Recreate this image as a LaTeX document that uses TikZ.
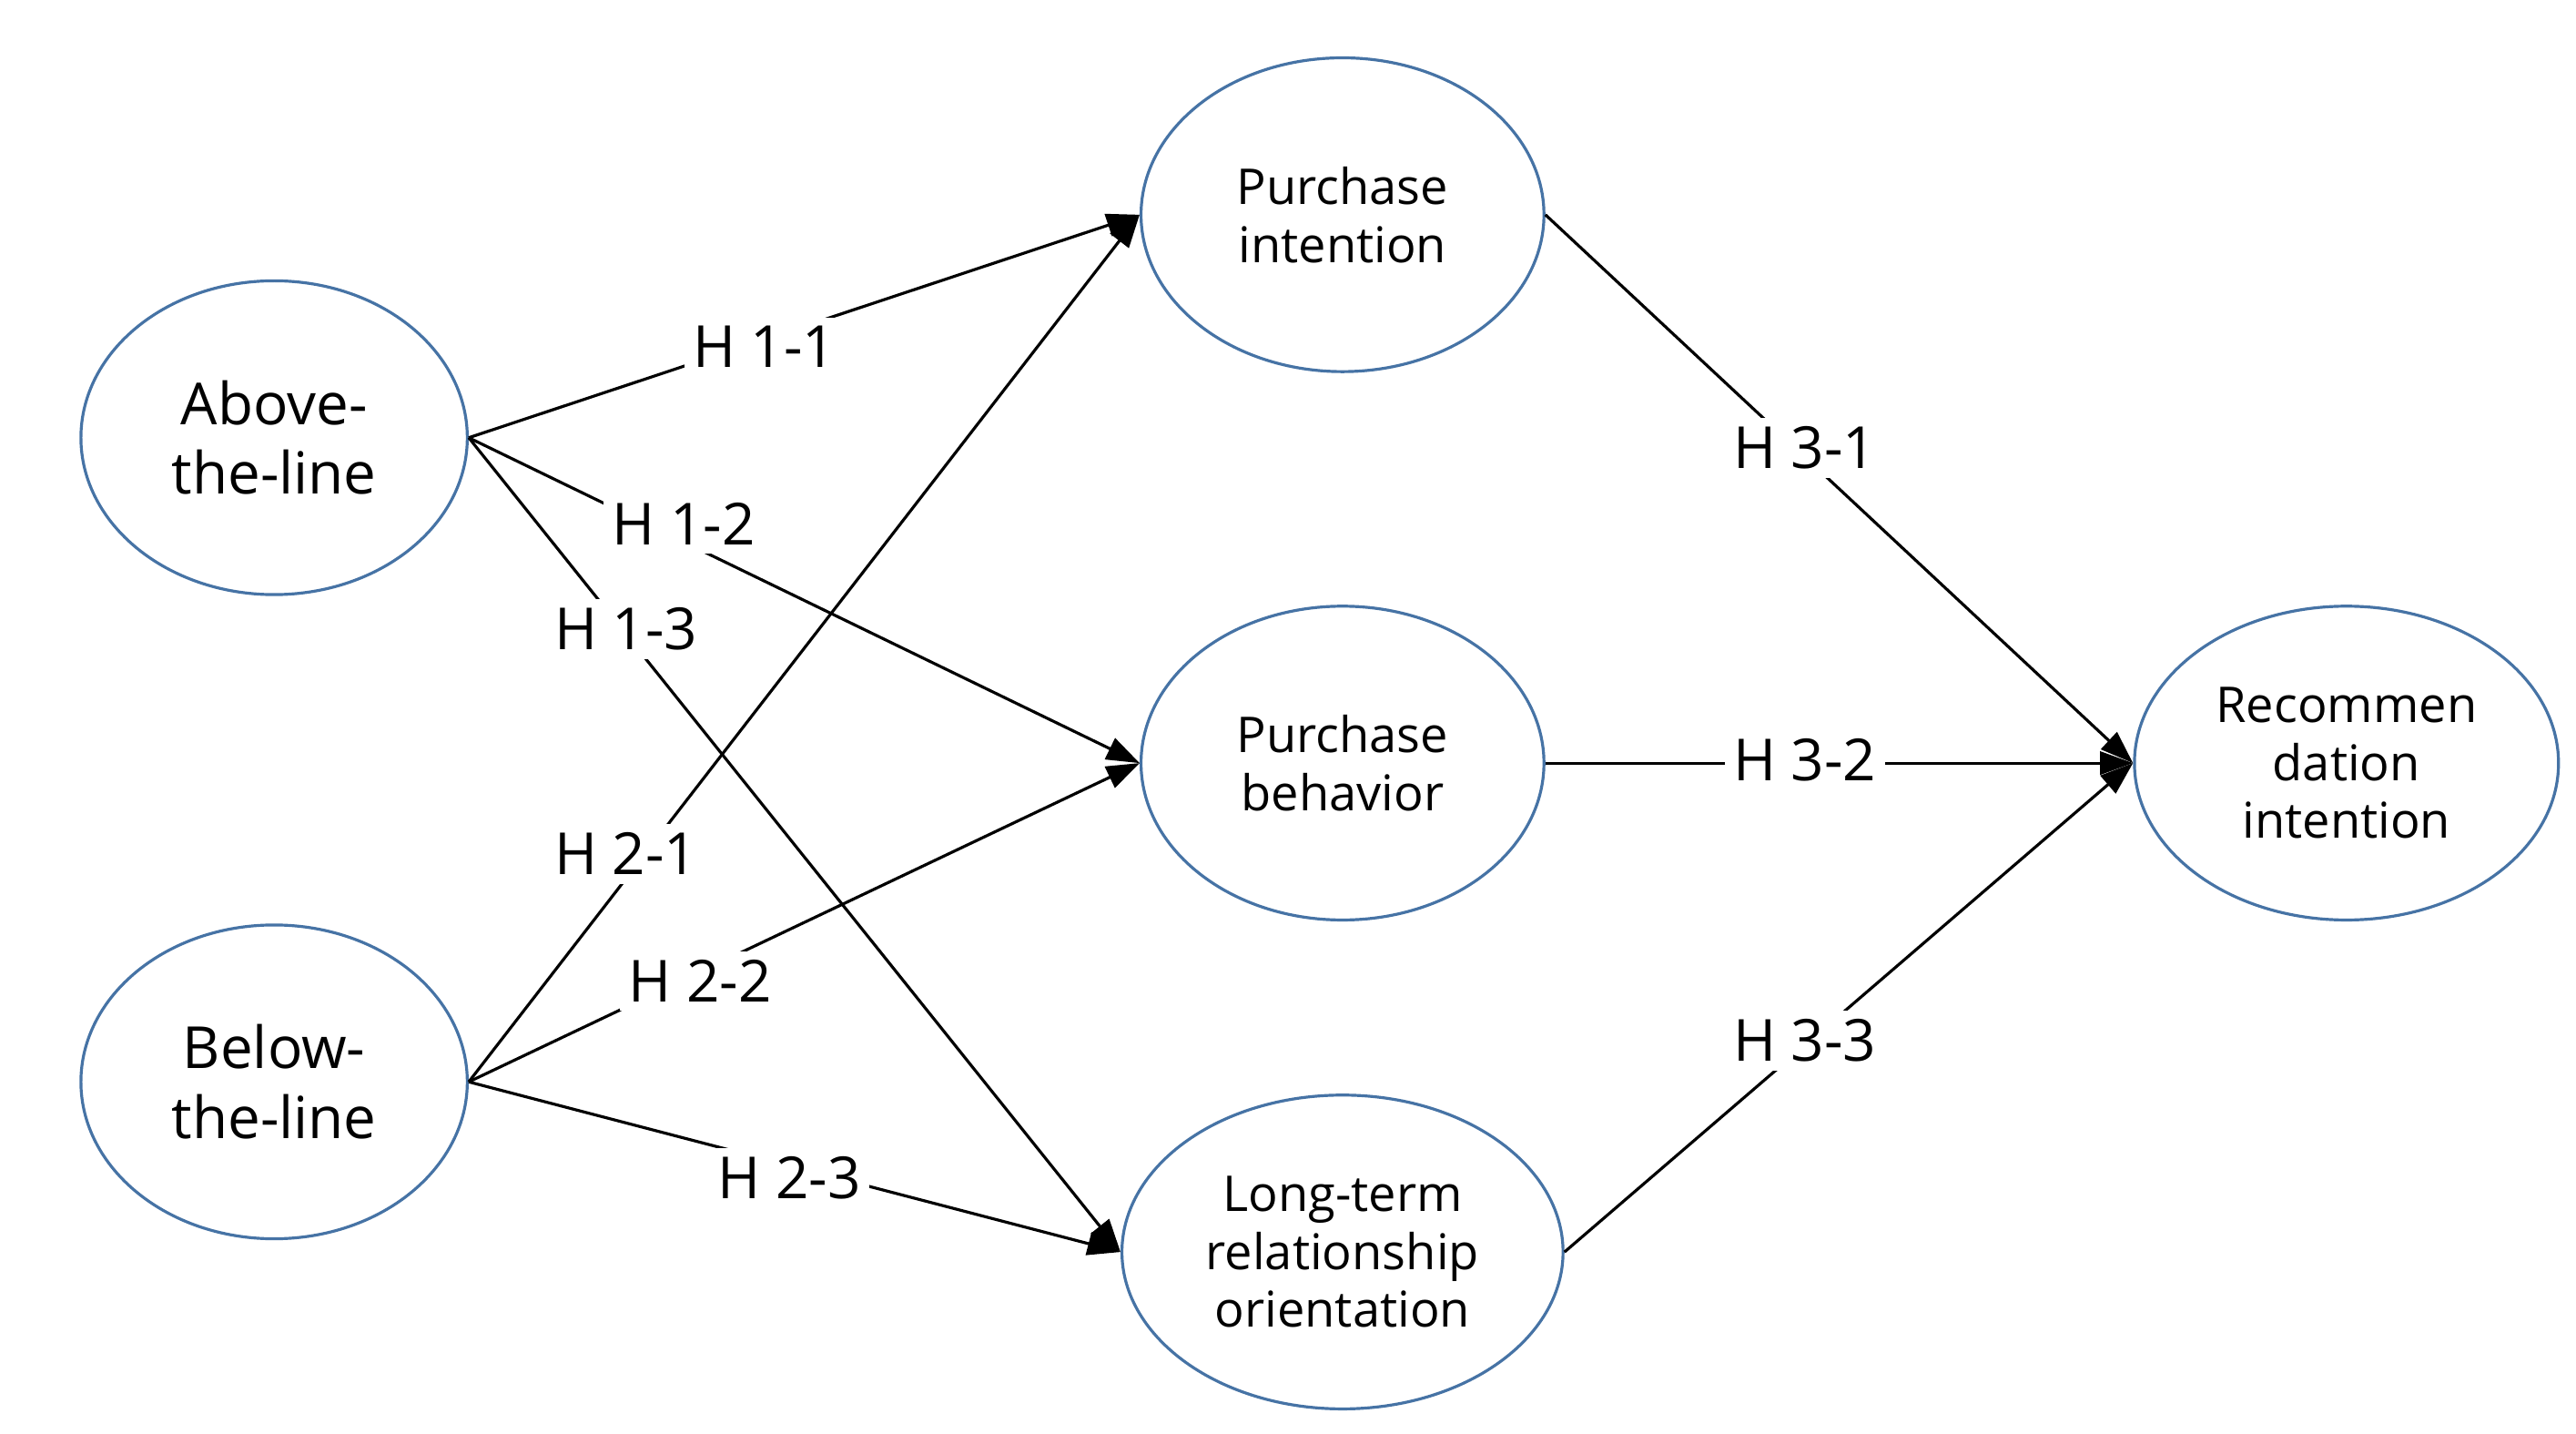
\documentclass[tikz,border=0pt]{standalone}
\usepackage{fontspec}
\setmainfont{Open Sans}
\usetikzlibrary{shapes.geometric,arrows.meta}
\definecolor{eblue}{RGB}{70,115,165}
\begin{document}
\begin{tikzpicture}[x=0.1mm,y=-0.1mm,
  ell/.style={ellipse,draw=eblue,line width=0.5pt,minimum width=234\pgflinewidth,align=center,font=\fontsize{8.5}{10}\selectfont},
  big/.style={ell,minimum width=23.4mm,minimum height=19mm,font=\fontsize{10}{12}\selectfont},
  mid/.style={ell,minimum width=24.4mm,minimum height=19mm},
  lab/.style={fill=white,inner sep=1.5pt,font=\fontsize{10}{12}\selectfont},
  arr/.style={line width=0.5pt,-{Triangle[length=2mm,width=1.4mm]}},
  ln/.style={line width=0.5pt}]
\useasboundingbox[fill=white] (0,0) rectangle (1560,868);
\node[big] (atl) at (166,265) {Above-\\the-line};
\node[big] (btl) at (166,655) {Below-\\the-line};
\node[mid] (pi) at (813,130) {Purchase\\intention};
\node[mid] (pb) at (813,462) {Purchase\\behavior};
\node[mid] (lt) at (813,758) {Long-term\\relationship\\orientation};
\node[mid] (ri) at (1421,462) {Recommen\\dation\\intention};
\draw[arr] (atl.east) -- (pi.west);
\draw[arr] (atl.east) -- (pb.west);
\draw[arr] (atl.east) -- (lt.west);
\draw[arr] (btl.east) -- (pi.west);
\draw[arr] (btl.east) -- (pb.west);
\draw[arr] (btl.east) -- (lt.west);
\draw[arr] (pi.east) -- (ri.west);
\draw[arr] (pb.east) -- (ri.west);
\draw[arr] (lt.east) -- (ri.west);
\node[lab] (h11) at (463,210) {H 1-1};
\node[lab] (h12) at (414,317) {H 1-2};
\node[lab] (h13) at (379,381) {H 1-3};
\node[lab] (h21) at (379,517) {H 2-1};
\node[lab] (h22) at (424,594) {H 2-2};
\node[lab] (h23) at (478,713) {H 2-3};
\node[lab] (h31) at (1093,271) {H 3-1};
\node[lab] (h32) at (1093,460) {H 3-2};
\node[lab] (h33) at (1093,630) {H 3-3};
\end{tikzpicture}
\end{document}
